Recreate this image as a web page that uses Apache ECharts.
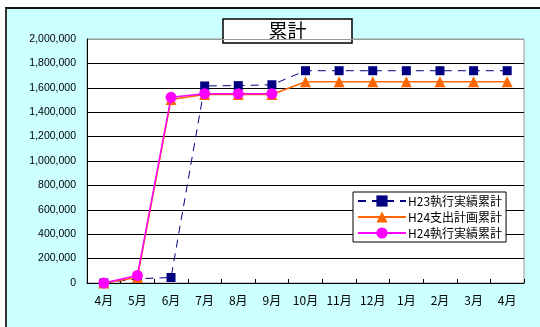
<!DOCTYPE html>
<html>
<head>
<meta charset="utf-8">
<script src="https://cdn.jsdelivr.net/npm/echarts@6/dist/echarts.min.js"></script>
<style>
  html, body { margin: 0; padding: 0; background: #ffffff; }
  #wrap { position: relative; width: 540px; height: 327px; overflow: hidden; background: #ffffff; }
  #frame { position: absolute; left: 5px; top: 7px; width: 600px; height: 400px; background: #CCFFFF; border-top: 2px solid #111; border-left: 2px solid #333; }
  #chart { position: absolute; left: 0; top: 0; width: 540px; height: 327px; }
</style>
</head>
<body>
<div id="wrap">
  <div id="frame"></div>
  <div id="chart"></div>
</div>
<script>
const categories = ['4月','5月','6月','7月','8月','9月','10月','11月','12月','1月','2月','3月','4月'];
const h23Actual = [0, 35000, 45000, 1615000, 1618000, 1625000, 1740000, 1740000, 1740000, 1740000, 1740000, 1740000, 1740000];
const h24Plan   = [0, 45000, 1505000, 1545000, 1545000, 1545000, 1650000, 1650000, 1650000, 1650000, 1650000, 1650000, 1650000];
const h24Actual = [0, 62000, 1522000, 1552000, 1552000, 1552000, null, null, null, null, null, null, null];
const seriesNames = ['H23執行実績累計', 'H24支出計画累計', 'H24執行実績累計'];
const titleText = '累計';

const FONT = '"Noto Sans CJK JP", "Liberation Sans", sans-serif';
const chart = echarts.init(document.getElementById('chart'), null, { renderer: 'canvas' });

const splitColors = [];
for (let i = 0; i < 10; i++) splitColors.push('#000000');
splitColors.push('#999999');

chart.setOption({
  backgroundColor: 'transparent',
  animation: false,
  grid: {
    left: 87, right: 16, top: 39, bottom: 44,
    show: true, backgroundColor: '#ffffff', borderColor: '#999999', borderWidth: 1
  },
  xAxis: {
    type: 'category',
    data: categories,
    boundaryGap: true,
    axisLine: { lineStyle: { color: '#000', width: 1 } },
    axisTick: { show: true, inside: true, length: 4, alignWithLabel: false, lineStyle: { color: '#000' } },
    axisLabel: { color: '#000', fontSize: 12, fontFamily: FONT, margin: 11, interval: 0 },
    splitLine: { show: false }
  },
  yAxis: {
    type: 'value',
    min: 0, max: 2000000, interval: 200000,
    axisLine: { show: true, lineStyle: { color: '#000', width: 1 } },
    axisTick: { show: false },
    axisLabel: {
      color: '#000', fontSize: 10.5, fontFamily: '"Liberation Sans", Arial, sans-serif', margin: 11,
      formatter: v => v.toLocaleString('en-US')
    },
    splitLine: { show: true, lineStyle: { color: splitColors, width: 1 } }
  },
  legend: {
    orient: 'vertical',
    left: 353, top: 192,
    width: 154,
    padding: [3, 4, 3, 4],
    itemGap: 4,
    itemWidth: 48, itemHeight: 14,
    backgroundColor: '#ffffff',
    borderColor: '#000000', borderWidth: 1,
    textStyle: { color: '#000', fontSize: 12, fontFamily: FONT, padding: [0, 0, 0, -3] },
    data: seriesNames
  },
  series: [
    {
      name: seriesNames[0], type: 'line', data: h23Actual,
      symbol: 'rect', symbolSize: 9,
      itemStyle: { color: '#000080' },
      lineStyle: { color: '#000080', width: 1, type: [8, 6] },
      z: 2
    },
    {
      name: seriesNames[1], type: 'line', data: h24Plan,
      symbol: 'triangle', symbolSize: 11,
      itemStyle: { color: '#FF6600' },
      lineStyle: { color: '#FF6600', width: 1.5 },
      z: 3
    },
    {
      name: seriesNames[2], type: 'line', data: h24Actual,
      symbol: 'circle', symbolSize: 11,
      itemStyle: { color: '#FF00FF' },
      lineStyle: { color: '#FF00FF', width: 1.5 },
      connectNulls: false,
      z: 4
    }
  ],
  graphic: [
    {
      type: 'group', z: 100,
      children: [
        { type: 'rect', shape: { x: 223, y: 19, width: 129, height: 24 },
          style: { fill: '#ffffff', stroke: '#000000', lineWidth: 1.5 } },
        { type: 'text', x: 287.5, y: 31,
          style: { text: titleText, fontSize: 19, fontFamily: FONT, fill: '#000', align: 'center', verticalAlign: 'middle' } }
      ]
    }
  ]
});
</script>
</body>
</html>
